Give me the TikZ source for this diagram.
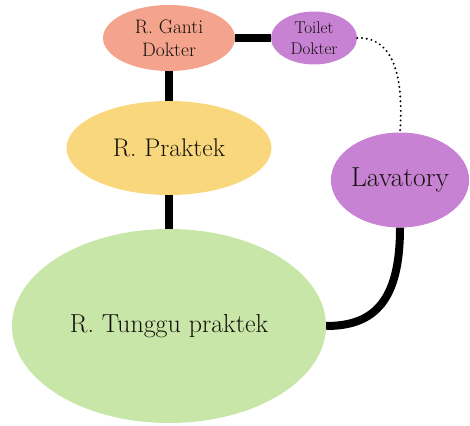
\documentclass[tikz,border=0pt]{standalone}
\usepackage{fontspec}
\usetikzlibrary{shapes.geometric}
\definecolor{salmon}{HTML}{F4A38C}
\definecolor{lilac}{HTML}{C882D4}
\definecolor{sand}{HTML}{F9D77D}
\definecolor{leaf}{HTML}{C9E6A9}
\definecolor{ink}{HTML}{14120C}
\begin{document}
\begin{tikzpicture}[x=1pt,y=-1pt,
  room/.style={ellipse,draw=none,inner sep=0pt,text=ink,align=center},
  link/.style={line width=8pt},
  dotlink/.style={line width=2.2pt,line cap=round,dash pattern=on 0pt off 4.8pt}]
\useasboundingbox (0,0) rectangle (470,425);
\node[room,fill=salmon,minimum width=132pt,minimum height=66pt,font=\fontsize{19.5}{23}\selectfont] (ganti) at (169,38) {R. Ganti\\Dokter};
\node[room,fill=lilac,minimum width=86pt,minimum height=53pt,font=\fontsize{17}{21}\selectfont] (toilet) at (314,38) {Toilet\\Dokter};
\node[room,fill=sand,minimum width=205pt,minimum height=94pt,font=\fontsize{25.5}{30}\selectfont] (praktek) at (169,148) {R. Praktek};
\node[room,fill=lilac,minimum width=135pt,minimum height=95pt,font=\fontsize{27.5}{30}\selectfont] (lav) at (400,180) {Lavatory};
\node[room,fill=leaf,minimum width=314pt,minimum height=194pt,font=\fontsize{26}{30}\selectfont] (tunggu) at (169,326) {R. Tunggu praktek};
\draw[link] (ganti.east) -- (toilet.west);
\draw[link] (ganti.south) -- (praktek.north);
\draw[link] (praktek.south) -- (tunggu.north);
\draw[dotlink] (toilet.east) .. controls (385,37) and (405,60) .. (lav.north);
\draw[link] (lav.south) .. controls (400,300) and (375,326) .. (tunggu.east);
\end{tikzpicture}
\end{document}
